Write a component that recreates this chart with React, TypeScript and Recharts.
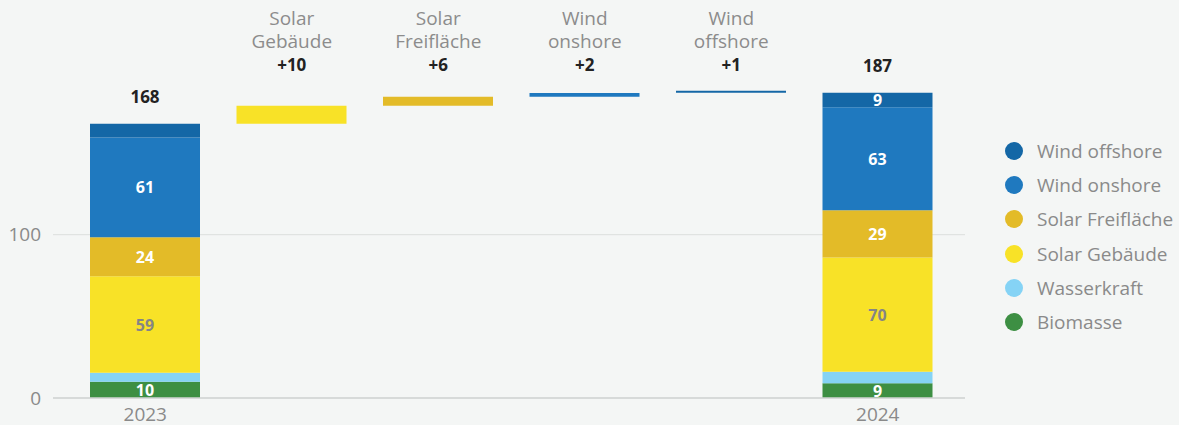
import React from 'react';
import { BarChart, Bar, XAxis, YAxis, CartesianGrid, Legend, LabelList, Cell } from 'recharts';

const categories = ['2023', 'Solar Gebäude', 'Solar Freifläche', 'Wind onshore', 'Wind offshore', '2024'];
const topLines = [[], ['Solar', 'Gebäude'], ['Solar', 'Freifläche'], ['Wind', 'onshore'], ['Wind', 'offshore'], []];
const deltaLabels = ['', '+10', '+6', '+2', '+1', ''];
const totals = [168, null, null, null, null, 187];

// stacked year bars
const biomasse = [10, 0, 0, 0, 0, 9];
const wasserkraft = [5.5, 0, 0, 0, 0, 7];
const solarGebaeude = [59, 0, 0, 0, 0, 70];
const solarFreiflaeche = [24, 0, 0, 0, 0, 29];
const windOnshore = [61, 0, 0, 0, 0, 63];
const windOffshore = [8.5, 0, 0, 0, 0, 9];

// floating steps between the years
const stepBase = [0, 168, 179, 184.5, 187, 0];
const stepSize = [0, 11, 5.5, 2.3, 1.2, 0];

const yTicks = [0, 100];
const legendOrder = ['Wind offshore', 'Wind onshore', 'Solar Freifläche', 'Solar Gebäude', 'Wasserkraft', 'Biomasse'];

const C = {
  off: '#1467a6',
  on: '#1f79bf',
  frei: '#e3bb28',
  geb: '#f8e227',
  wasser: '#85d3f5',
  bio: '#3d8f43',
};
const stepColors = ['transparent', C.geb, C.frei, C.on, C.off, 'transparent'];

const data = categories.map((name, i) => ({
  name,
  base: stepBase[i],
  step: stepSize[i],
  bio: biomasse[i],
  wasser: wasserkraft[i],
  geb: solarGebaeude[i],
  frei: solarFreiflaeche[i],
  on: windOnshore[i],
  off: windOffshore[i],
  total: totals[i],
}));

const segLabel = (fill: string) => (p: any) => {
  const { x, y, width, height, value } = p;
  if (value == null || value < 9) return null;
  return (
    <text x={x + width / 2} y={y + height / 2} textAnchor="middle" dominantBaseline="central"
      fontSize={16} fontWeight={700} fill={fill}>
      {Math.round(value)}
    </text>
  );
};

const totalLabel = (p: any) => {
  const { x, y, width, value } = p;
  if (value == null) return null;
  return (
    <text x={x + width / 2} y={y - 27} textAnchor="middle" dominantBaseline="central"
      fontSize={17} fontWeight={700} fill="#222">
      {value}
    </text>
  );
};

const TopTick = (props: any) => {
  const { x, y, index } = props;
  const lines = topLines[index];
  if (!lines || !lines.length) return null;
  return (
    <g>
      {lines.map((l, k) => (
        <text key={k} x={x} y={y - 53 + k * 23} textAnchor="middle" dominantBaseline="central" fontSize={19} fill="#8c8c8c">
          {l}
        </text>
      ))}
      <text x={x} y={y - 7} textAnchor="middle" dominantBaseline="central" fontSize={17} fontWeight={700} fill="#222">
        {deltaLabels[index]}
      </text>
    </g>
  );
};

const renderLegend = (props: any) => {
  const items = legendOrder
    .map((n) => (props.payload || []).find((e: any) => e.value === n))
    .filter(Boolean);
  return (
    <ul style={{ listStyle: 'none', margin: 0, padding: 0 }}>
      {items.map((e: any) => (
        <li key={e.value} style={{ display: 'flex', alignItems: 'center', height: 34.2, whiteSpace: 'nowrap' }}>
          <span style={{ width: 18, height: 18, borderRadius: 9, background: e.color, marginRight: 14, flex: 'none' }} />
          <span style={{ fontSize: 19, color: '#8a8a8a' }}>{e.value}</span>
        </li>
      ))}
    </ul>
  );
};

export default function App() {
  return (
    <div style={{
      position: 'absolute', left: 0, top: 0, width: 1179, height: 425, padding: 8, boxSizing: 'border-box',
      overflow: 'hidden', fontFamily: '"Open Sans", sans-serif', background: '#f4f6f5',
    }}>
      <BarChart width={1171} height={417} data={data} margin={{ top: 3.4, right: 214, bottom: 0, left: 0 }}>
        <CartesianGrid horizontal vertical={false} horizontalValues={yTicks} stroke="#dcdedd" />
        <XAxis dataKey="name" height={27} tickLine={false} axisLine={{ stroke: '#d2d4d3', strokeWidth: 1.5 }}
          padding={{ left: 19, right: 14 }} tickMargin={4}
          tickFormatter={(v: string) => (v === '2023' || v === '2024' ? v : '')}
          tick={{ fontSize: 19, fill: '#8a8a8a' }} interval={0} />
        <XAxis xAxisId="top" orientation="top" dataKey="name" height={60} tickLine={false} axisLine={false}
          padding={{ left: 19, right: 14 }} tickSize={0} tickMargin={0} tick={<TopTick />} interval={0} />
        <YAxis width={45} domain={[0, 200]} ticks={yTicks} tickLine={false} axisLine={false}
          tickMargin={6} tick={{ fontSize: 19, fill: '#8a8a8a' }} />
        <Legend layout="horizontal" align="center" verticalAlign="middle" content={renderLegend}
          wrapperStyle={{ left: 997, top: 126, width: 174, height: 210 }} />
        <Bar dataKey="base" stackId="a" barSize={110} fill="transparent" legendType="none" isAnimationActive={false} />
        <Bar dataKey="step" stackId="a" barSize={110} legendType="none" isAnimationActive={false}>
          {data.map((_, i) => <Cell key={i} fill={stepColors[i]} />)}
        </Bar>
        <Bar dataKey="bio" name="Biomasse" stackId="a" barSize={110} fill={C.bio} isAnimationActive={false}>
          <LabelList dataKey="bio" content={segLabel('#fff')} />
        </Bar>
        <Bar dataKey="wasser" name="Wasserkraft" stackId="a" barSize={110} fill={C.wasser} isAnimationActive={false} />
        <Bar dataKey="geb" name="Solar Gebäude" stackId="a" barSize={110} fill={C.geb} isAnimationActive={false}>
          <LabelList dataKey="geb" content={segLabel('#858585')} />
        </Bar>
        <Bar dataKey="frei" name="Solar Freifläche" stackId="a" barSize={110} fill={C.frei} isAnimationActive={false}>
          <LabelList dataKey="frei" content={segLabel('#fff')} />
        </Bar>
        <Bar dataKey="on" name="Wind onshore" stackId="a" barSize={110} fill={C.on} isAnimationActive={false}>
          <LabelList dataKey="on" content={segLabel('#fff')} />
        </Bar>
        <Bar dataKey="off" name="Wind offshore" stackId="a" barSize={110} fill={C.off} isAnimationActive={false}>
          <LabelList dataKey="off" content={segLabel('#fff')} />
          <LabelList dataKey="total" content={totalLabel} />
        </Bar>
      </BarChart>
    </div>
  );
}
